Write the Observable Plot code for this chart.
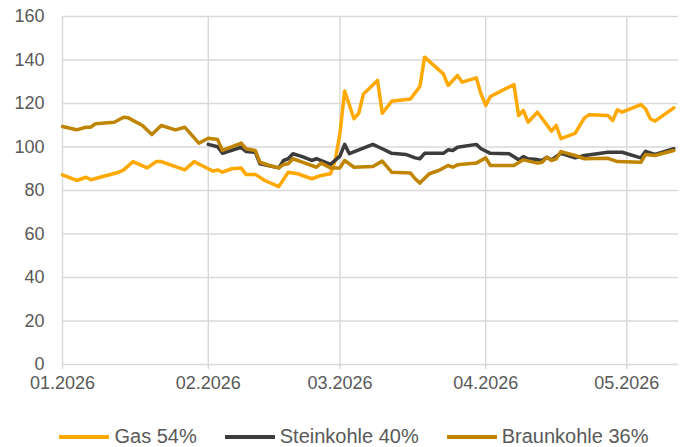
<!DOCTYPE html>
<html>
<head>
<meta charset="utf-8">
<script src="https://cdn.jsdelivr.net/npm/d3@7"></script>
<script src="https://cdn.jsdelivr.net/npm/@observablehq/plot@0.6"></script>
<style>
  body { margin: 0; background: #fff; font-family: "Liberation Sans", Arial, sans-serif; }
  #chart svg { display: block; }
  #legend { display: flex; justify-content: center; align-items: center; gap: 28px; margin-top: 25px; margin-left: 24px;
            font-family: "Liberation Sans", Arial, sans-serif; font-size: 20px; color: #595959; }
  #legend .item { display: flex; align-items: center; }
  #legend .sw { display: inline-block; width: 50px; height: 4px; margin-right: 5px; }
</style>
</head>
<body>
<div id="chart"></div>
<div id="legend"></div>
<script>
const seriesNames = ["Gas 54%", "Steinkohle 40%", "Braunkohle 36%"];
const seriesColors = ["#FFA800", "#3C3C3C", "#C08500"];
const monthTicks = ["2026-01-01", "2026-02-01", "2026-03-01", "2026-04-01", "2026-05-01"];
const yTicks = [0, 20, 40, 60, 80, 100, 120, 140, 160];

const gasDates = ["2026-01-01","2026-01-04","2026-01-06","2026-01-07","2026-01-09","2026-01-13","2026-01-14","2026-01-16","2026-01-19","2026-01-21","2026-01-22","2026-01-27","2026-01-29",
  "2026-02-01","2026-02-02","2026-02-03","2026-02-04","2026-02-06","2026-02-08","2026-02-09","2026-02-11","2026-02-13","2026-02-16","2026-02-18","2026-02-20","2026-02-23","2026-02-25","2026-02-27","2026-02-28",
  "2026-03-01","2026-03-02","2026-03-04","2026-03-05","2026-03-06","2026-03-09","2026-03-10","2026-03-12","2026-03-16","2026-03-18","2026-03-19","2026-03-23","2026-03-24","2026-03-26","2026-03-27","2026-03-30","2026-03-31",
  "2026-04-01","2026-04-02","2026-04-07","2026-04-08","2026-04-09","2026-04-10","2026-04-12","2026-04-15","2026-04-16","2026-04-17","2026-04-20","2026-04-22","2026-04-23","2026-04-27","2026-04-28","2026-04-29","2026-04-30",
  "2026-05-04","2026-05-05","2026-05-06","2026-05-07","2026-05-11"];
const gasValues = [87.2,84.6,86.1,84.9,86.1,88.4,89.5,93.3,90.4,93.3,93.3,89.5,93.3,
  90,88.9,89.5,88.4,90,90.3,87.4,87.4,84.6,81.8,88.4,87.7,85.4,86.9,87.7,93.8,
  106.3,125.7,113,115.5,124.4,130.6,115.5,121,122.1,127.8,141.3,133.6,128.3,132.9,129.8,131.8,124.4,
  119.1,123.2,128.7,114.5,116.8,111.4,116,107.3,109.9,103.8,106.3,113.4,114.8,114.5,112.2,117.1,116,
  119.5,117.6,113,111.9,118];

const steinDates = ["2026-02-01","2026-02-03","2026-02-04","2026-02-08","2026-02-09","2026-02-11","2026-02-12","2026-02-16","2026-02-17","2026-02-18","2026-02-19","2026-02-21","2026-02-23","2026-02-24","2026-02-27",
  "2026-03-01","2026-03-02","2026-03-03","2026-03-08","2026-03-10","2026-03-12","2026-03-15","2026-03-17","2026-03-18","2026-03-19","2026-03-23","2026-03-24","2026-03-25","2026-03-26","2026-03-30","2026-03-31",
  "2026-04-02","2026-04-06","2026-04-08","2026-04-09","2026-04-10","2026-04-12","2026-04-13","2026-04-14","2026-04-15","2026-04-17","2026-04-20","2026-04-22","2026-04-27","2026-04-30",
  "2026-05-04","2026-05-05","2026-05-07","2026-05-11"];
const steinValues = [101.2,100.1,97.1,99.9,97.9,97.6,92.3,90.4,93.8,94.6,96.9,95.6,93.8,94.6,92,
  95.8,101.2,96.9,101.2,99.2,97.1,96.6,95,94.6,97.1,97.1,98.7,98.4,99.9,101.2,99.2,
  97.1,96.9,94.1,95.6,94.6,94.2,93.8,95.3,94.1,97.1,95,96.1,97.6,97.6,
  95,98,96.6,99.2];

const braunDates = ["2026-01-01","2026-01-04","2026-01-06","2026-01-07","2026-01-08","2026-01-12","2026-01-14","2026-01-15","2026-01-18","2026-01-20","2026-01-22","2026-01-25","2026-01-27","2026-01-30",
  "2026-02-01","2026-02-03","2026-02-04","2026-02-08","2026-02-09","2026-02-11","2026-02-12","2026-02-14","2026-02-16","2026-02-17","2026-02-18","2026-02-19","2026-02-21","2026-02-24","2026-02-25","2026-02-27",
  "2026-03-01","2026-03-02","2026-03-04","2026-03-08","2026-03-10","2026-03-12","2026-03-16","2026-03-17","2026-03-18","2026-03-20","2026-03-22","2026-03-24","2026-03-25","2026-03-26","2026-03-30",
  "2026-04-01","2026-04-02","2026-04-07","2026-04-09","2026-04-12","2026-04-13","2026-04-14","2026-04-15","2026-04-16","2026-04-17","2026-04-20","2026-04-22","2026-04-27","2026-04-29",
  "2026-05-04","2026-05-05","2026-05-07","2026-05-11"];
const braunValues = [109.4,107.9,109.1,109.1,110.7,111.4,113.7,113.4,109.9,105.7,109.9,107.9,109.1,101.8,
  104,103.4,98.4,101.8,99.2,98.4,93,91.5,90.4,92,92.3,94.6,93,90.7,92.6,90.4,
  90.4,93.8,90.7,91,93.5,88.4,88,85.4,83.4,87.7,89.2,91.5,90.7,91.8,92.6,
  95,91.5,91.5,94.1,92.6,93,95.3,93.8,94.6,97.9,96.1,94.6,94.8,93.3,
  93,96.6,96.1,98.4];

const parse = d3.utcParse("%Y-%m-%d");
const raw = [[gasDates, gasValues], [steinDates, steinValues], [braunDates, braunValues]];
const rows = raw.flatMap(([ds, vs], i) => ds.map((d, j) => ({series: seriesNames[i], date: parse(d), value: vs[j]})));
const months = monthTicks.map(parse);

const chart = Plot.plot({
  width: 684,
  height: 400,
  marginTop: 16,
  marginBottom: 36,
  marginLeft: 62,
  marginRight: 6,
  style: {fontFamily: "'Liberation Sans', Arial, sans-serif", fontSize: "18px", color: "#595959", background: "#fff"},
  x: {type: "utc", domain: [parse("2026-01-01"), parse("2026-05-12")]},
  y: {domain: [0, 160]},
  color: {domain: seriesNames, range: seriesColors},
  marks: [
    Plot.ruleY(yTicks, {stroke: "#d9d9d9", strokeWidth: 1.5}),
    Plot.ruleX(months, {y1: 0, y2: 160, stroke: "#d9d9d9", strokeWidth: 1.5}),
    Plot.axisY({ticks: yTicks, tickSize: 0, tickPadding: 18, label: null, fontSize: 18, fill: "#595959"}),
    Plot.axisX({ticks: months, tickSize: 5, tickPadding: 7, stroke: "#d9d9d9", strokeWidth: 1.5, strokeOpacity: 1,
                tickFormat: d3.utcFormat("%m.%Y"), label: null, fontSize: 18, fill: "#595959"}),
    Plot.lineY(rows, {x: "date", y: "value", z: "series", stroke: "series", strokeWidth: 3.5, strokeLinejoin: "round", strokeLinecap: "round"})
  ]
});
document.getElementById("chart").appendChild(chart);

const legend = document.getElementById("legend");
seriesNames.forEach((n, i) => {
  const item = document.createElement("div");
  item.className = "item";
  const sw = document.createElement("span");
  sw.className = "sw";
  sw.style.background = seriesColors[i];
  const t = document.createElement("span");
  t.textContent = n;
  item.appendChild(sw);
  item.appendChild(t);
  legend.appendChild(item);
});
</script>
</body>
</html>
